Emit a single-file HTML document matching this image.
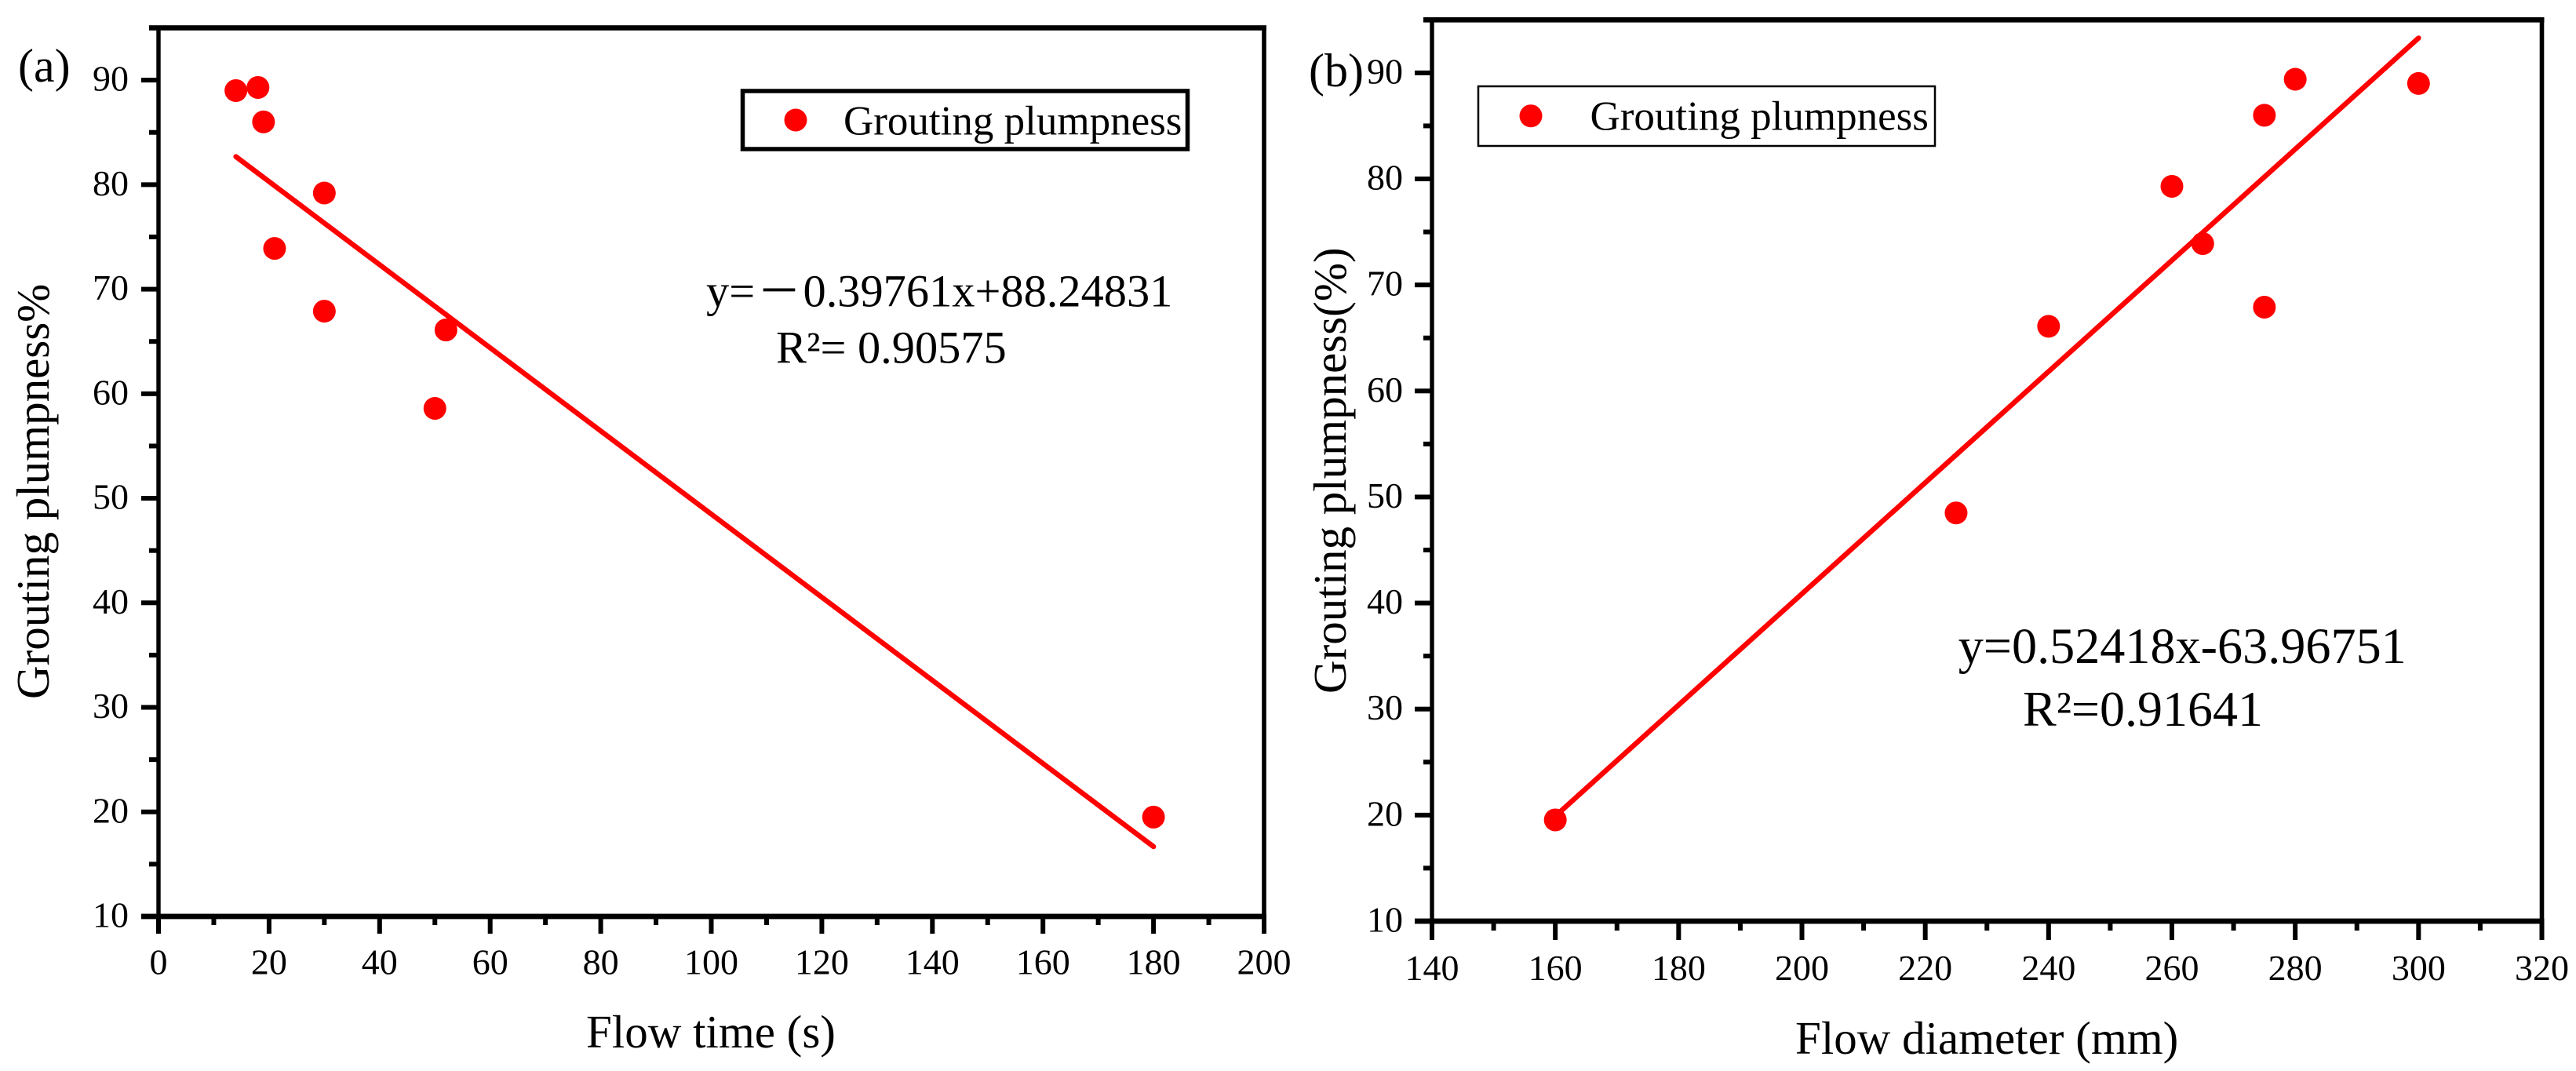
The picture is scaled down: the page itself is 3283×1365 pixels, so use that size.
<!DOCTYPE html>
<html lang="en">
<head>
<meta charset="utf-8">
<title>Grouting plumpness charts</title>
<style>
  html, body { margin: 0; padding: 0; background: #fff; }
  svg { display: block; }
  text { font-family: "Liberation Serif", "Noto Serif CJK SC", serif; fill: #000; }
</style>
</head>
<body>
<svg id="figure" xmlns="http://www.w3.org/2000/svg" width="3283" height="1365" viewBox="0 0 3283 1365">
  <rect width="3283" height="1365" fill="#fff"/>

  <g id="panel-a"></g>
  <g id="panel-b"></g>

  <text x="23" y="104" font-size="60">(a)</text>
  <text transform="translate(62,891) rotate(-90)" font-size="59">Grouting plumpness%</text>
  <text x="747" y="1335" font-size="59">Flow time (s)</text>

  <g>
    <rect x="946.5" y="116" width="567" height="74" fill="#fff" stroke="#000" stroke-width="5.5"/>
    <circle cx="1014" cy="153" r="14.5" fill="#ff0000"/>
    <text x="1075" y="171.5" font-size="53">Grouting plumpness</text>
  </g>

  <text y="390.7" font-size="58.4"><tspan x="900">y=</tspan><tspan x="965" font-family="'Noto Sans CJK SC', sans-serif" font-size="56">－</tspan><tspan x="1023.5">0.39761x+88.24831</tspan></text>
  <text x="989" y="462.7" font-size="58.4">R²= 0.90575</text>

  <text x="1668" y="110" font-size="60">(b)</text>
  <text transform="translate(1715,884) rotate(-90)" font-size="59">Grouting plumpness(%)</text>
  <text x="2288" y="1343" font-size="59">Flow diameter (mm)</text>

  <g>
    <rect x="1884" y="110" width="582" height="76" fill="#fff" stroke="#000" stroke-width="2.5"/>
    <circle cx="1951" cy="147.7" r="14.5" fill="#ff0000"/>
    <text x="2026.5" y="165.7" font-size="53">Grouting plumpness</text>
  </g>

  <text x="2495.7" y="845" font-size="64.2">y=0.52418x-63.96751</text>
  <text x="2578" y="925" font-size="64">R²=0.91641</text>
</svg>

<script>
const SVG_NS = 'http://www.w3.org/2000/svg';

// Panel (a) data
const aFlowTime = [14, 18, 19, 21, 30, 30, 52, 50, 180];
const aPlumpness = [89, 89.3, 86, 73.9, 79.2, 67.9, 66.1, 58.6, 19.5];
const aFitCoefficients = [-0.39761, 88.24831];
const aFitRange = [14, 180];
const aXTicks = [0, 20, 40, 60, 80, 100, 120, 140, 160, 180, 200];

// Panel (b) data
const bFlowDiameter = [160, 225, 240, 260, 265, 275, 275, 280, 300];
const bPlumpness = [19.55, 48.5, 66.1, 79.3, 73.9, 86, 67.9, 89.4, 89];
const bFitCoefficients = [0.52418, -63.96751];
const bFitRange = [160, 300];
const bXTicks = [140, 160, 180, 200, 220, 240, 260, 280, 300, 320];

// Shared y axis
const yTicks = [10, 20, 30, 40, 50, 60, 70, 80, 90];
const yMax = 95;

function make(tag, attrs, parent) {
  const el = document.createElementNS(SVG_NS, tag);
  for (const k in attrs) el.setAttribute(k, attrs[k]);
  parent.appendChild(el);
  return el;
}

function drawPanel(cfg) {
  const root = document.getElementById(cfg.id);
  const xDomain0 = cfg.xTicks[0];
  const xDomain1 = cfg.xTicks[cfg.xTicks.length - 1];
  const yDomain0 = yTicks[0];
  const xScale = function (v) { return cfg.left + (v - xDomain0) / (xDomain1 - xDomain0) * (cfg.right - cfg.left); };
  const yScale = function (v) { return cfg.bottom - (v - yDomain0) / (yMax - yDomain0) * (cfg.bottom - cfg.top); };
  const black = '#000';

  // axis frame
  const topAxis = make('rect', { x: cfg.minorLeft, y: cfg.top - 3.3, width: cfg.right + 3 - cfg.minorLeft, height: 6.6, fill: black }, root);
  
  
  const rightAxis = make('rect', { x: cfg.right - 2.8, y: cfg.top, width: 5.6, height: cfg.xMajorEnd - cfg.top, fill: black }, root);
  
  
  const leftAxis = make('rect', { x: cfg.left - 2.7, y: cfg.top, width: 5.4, height: cfg.xMajorEnd - cfg.top, fill: black }, root);
  
  
  const bottomAxis = make('rect', { x: cfg.majorLeft, y: cfg.bottom - 3.4, width: cfg.right + 3 - cfg.majorLeft, height: 6.8, fill: black }, root);
  
  

  // y ticks and labels
  yTicks.forEach(function (v, i) {
    const py = yScale(v);
    const tick = make('rect', { x: cfg.majorLeft, y: py - 3, width: cfg.left - cfg.majorLeft, height: 6, fill: black }, root);
    
    
    const label = make('text', { x: cfg.yLabelRight, y: py + 13.5, 'text-anchor': 'end', 'font-size': 46 }, root);
    label.textContent = String(v);
    
    
    if (i < yTicks.length - 1) {
      const minor = make('rect', { x: cfg.minorLeft, y: yScale(v + 5) - 3, width: cfg.left - cfg.minorLeft, height: 6, fill: black }, root);
      
      
    }
  });

  // x ticks and labels
  cfg.xTicks.forEach(function (v, i) {
    const px = xScale(v);
    const tick = make('rect', { x: px - 3, y: cfg.bottom, width: 6, height: cfg.xMajorEnd - cfg.bottom, fill: black }, root);
    
    
    const label = make('text', { x: px, y: cfg.xLabelBaseline, 'text-anchor': 'middle', 'font-size': 46 }, root);
    label.textContent = String(v);
    
    
    if (i < cfg.xTicks.length - 1) {
      const mid = (v + cfg.xTicks[i + 1]) / 2;
      const minor = make('rect', { x: xScale(mid) - 3, y: cfg.bottom, width: 6, height: cfg.xMinorEnd - cfg.bottom, fill: black }, root);
      
      
    }
  });

  // fit line from coefficients
  const fitAt = function (x) { return cfg.fit[0] * x + cfg.fit[1]; };
  const fitLine = make('line', {
    x1: xScale(cfg.fitRange[0]), y1: yScale(fitAt(cfg.fitRange[0])),
    x2: xScale(cfg.fitRange[1]), y2: yScale(fitAt(cfg.fitRange[1])),
    stroke: '#ff0000', 'stroke-width': 6.5, 'stroke-linecap': 'round'
  }, root);
  
  

  // points
  cfg.xs.forEach(function (x, i) {
    const dot = make('circle', { cx: xScale(x), cy: yScale(cfg.ys[i]), r: 14.5, fill: '#ff0000' }, root);
    
    
  });
}

drawPanel({
  id: 'panel-a',
  xs: aFlowTime, ys: aPlumpness, fit: aFitCoefficients, fitRange: aFitRange, xTicks: aXTicks,
  left: 202, right: 1611, top: 35.5, bottom: 1168,
  majorLeft: 180, minorLeft: 190, yLabelRight: 164,
  xMajorEnd: 1190, xMinorEnd: 1179, xLabelBaseline: 1241.7
});

drawPanel({
  id: 'panel-b',
  xs: bFlowDiameter, ys: bPlumpness, fit: bFitCoefficients, fitRange: bFitRange, xTicks: bXTicks,
  left: 1825, right: 3239.5, top: 25.3, bottom: 1174,
  majorLeft: 1803, minorLeft: 1814, yLabelRight: 1788,
  xMajorEnd: 1198, xMinorEnd: 1186, xLabelBaseline: 1249
});
</script>
</body>
</html>
